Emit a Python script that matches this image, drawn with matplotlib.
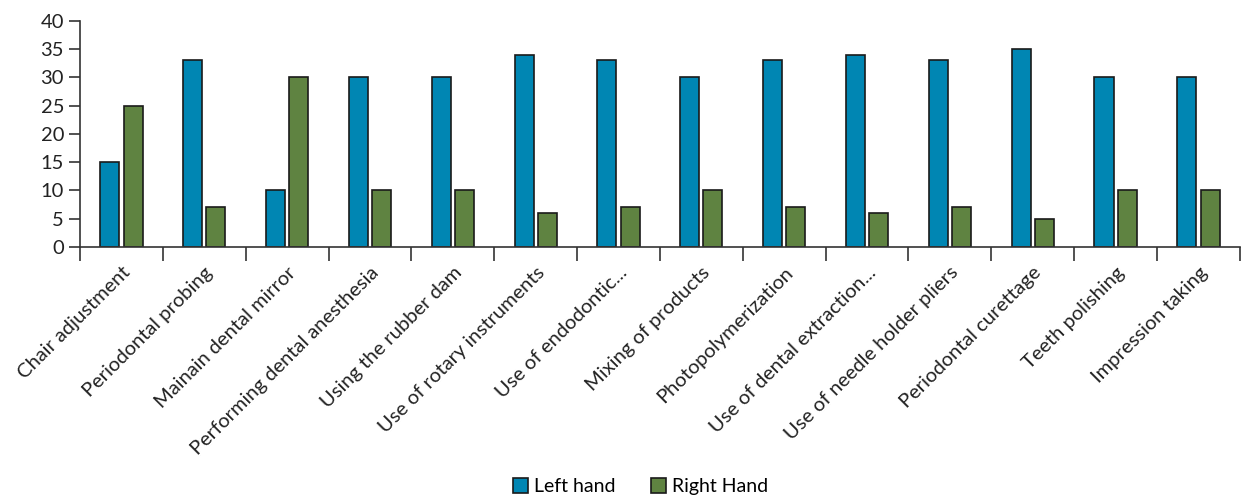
import numpy as np
import matplotlib
matplotlib.use("Agg")
import matplotlib.pyplot as plt
from matplotlib.ticker import FixedLocator

plt.rcParams['font.family'] = ['Lato', 'DejaVu Sans']

# data
categories = [
    "Chair adjustment", "Periodontal probing", "Mainain dental mirror",
    "Performing dental anesthesia", "Using the rubber dam",
    "Use of rotary instruments", "Use of endodontic...", "Mixing of products",
    "Photopolymerization", "Use of dental extraction...",
    "Use of needle holder pliers", "Periodontal curettage",
    "Teeth polishing", "Impression taking",
]
left_hand = [15, 33, 10, 30, 30, 34, 33, 30, 33, 34, 33, 35, 30, 30]
right_hand = [25, 7, 30, 10, 10, 6, 7, 10, 7, 6, 7, 5, 10, 10]

blue = "#0086B3"
green = "#5F8341"

fig = plt.figure(figsize=(12.58, 4.98), dpi=100)
ax = fig.add_axes([0.0636, 0.504, 0.922, 0.454])

x = np.arange(len(categories))
w = 0.23
ax.bar(x - 0.14, left_hand, w, color=blue, edgecolor="#1a1a1a", linewidth=1.2, label="Left hand")
ax.bar(x + 0.14, right_hand, w, color=green, edgecolor="#1a1a1a", linewidth=1.2, label="Right Hand")

ax.set_xlim(-0.5, len(categories) - 0.5)
ax.set_ylim(0, 40)
ax.set_yticks(range(0, 41, 5))
ax.tick_params(axis='y', labelsize=14.5, length=8, width=1.2, color="#333333", labelcolor="#222222")

# major ticks on category boundaries, labels on minor ticks at centers
ax.xaxis.set_major_locator(FixedLocator(np.arange(-0.5, len(categories), 1.0)))
ax.set_xticklabels([])
ax.set_xticks(x, minor=True)
ax.set_xticklabels(categories, minor=True, rotation=45, ha='right', rotation_mode='anchor', fontsize=14.5, color="#222222")
ax.tick_params(axis='x', which='major', length=10, width=1.2, color="#333333")
ax.tick_params(axis='x', which='minor', length=0, pad=12)

for s in ['top', 'right']:
    ax.spines[s].set_visible(False)
ax.spines['left'].set_linewidth(1.2)
ax.spines['bottom'].set_linewidth(1.2)
ax.spines['left'].set_color("#333333")
ax.spines['bottom'].set_color("#333333")

fig.legend(loc='lower center', bbox_to_anchor=(0.509, -0.03), ncol=2, frameon=False,
           fontsize=14, handlelength=0.8, handleheight=0.8, handletextpad=0.3, columnspacing=1.8)

fig.savefig("out.png", dpi=100)
